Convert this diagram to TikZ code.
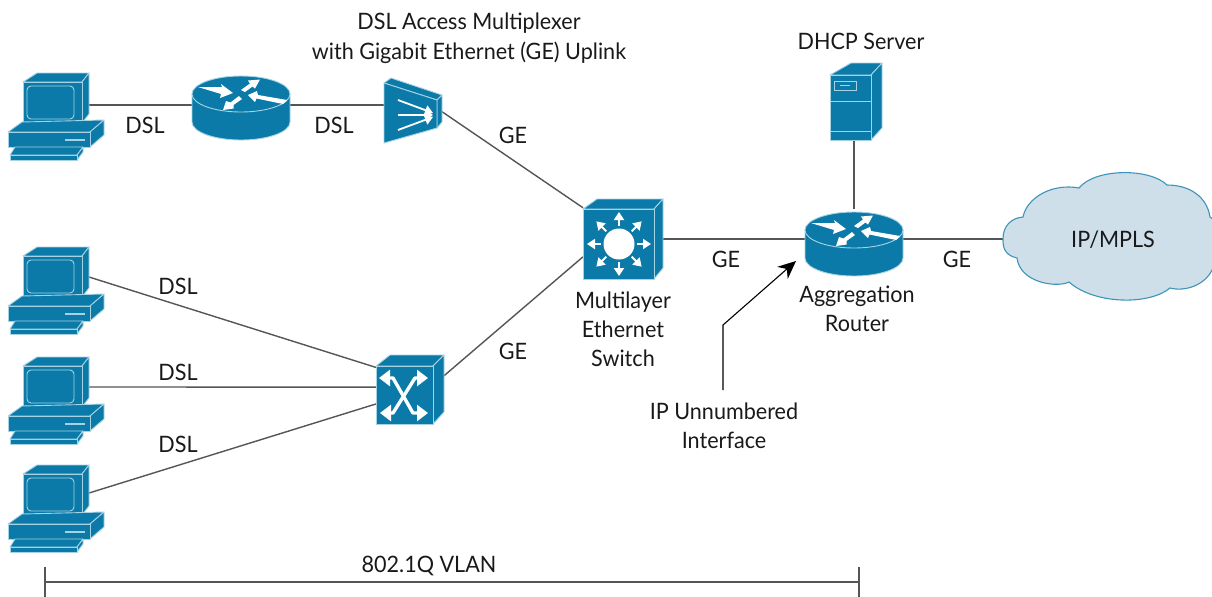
\documentclass[tikz,border=0pt]{standalone}
\usepackage{fontspec}
\setmainfont[FakeStretch=0.955]{Lato}
\usetikzlibrary{positioning, arrows.meta}
\definecolor{azul}{HTML}{0B7AA8}
\definecolor{borde}{HTML}{A5D3E3}
\definecolor{nube}{HTML}{CFDFEA}
\definecolor{linea}{HTML}{555555}
\tikzset{
	% caras de los iconos
	cara/.style={fill=azul, draw=borde, line width=0.45pt, line join=round},
	flechafina/.style={draw=white, line width=0.9pt, -{Triangle[length=4pt, width=5pt]}},
	% ordenador
	pc/.pic={
		\path[cara] (-33,-23) -- (-19,-32) -- (33,-32) -- (26,-23) -- cycle;
		\path[cara] (26,-23) -- (33,-32) -- (33,9) -- (26,18) -- cycle;
		\path[cara] (-33,-23) rectangle (26,18);
		\draw[borde, line width=0.45pt, rounded corners=2pt] (-29,-19) rectangle (18,14);
		\path[cara] (-48,27) -- (-34,17) -- (48,15) -- (34,27) -- cycle;
		\path[cara] (34,27) -- (48,15) -- (48,30) -- (34,42) -- cycle;
		\path[cara] (-48,27) rectangle (34,42);
		\draw[borde, line width=0.8pt] (9,35) -- (29,35);
		\path[cara] (-41,42) -- (27,42) -- (21,50) -- (-46,50) -- cycle;
		\path[cara] (27,42) -- (27,47) -- (21,55) -- (21,50) -- cycle;
		\path[cara] (-46,50) rectangle (21,55);
	},
	% router
	router/.pic={
		\path[cara] (-49,-11) -- (-49,17) arc[start angle=180, end angle=360, x radius=49, y radius=-18] -- (49,-11) -- cycle;
		\path[cara] (0,-11) ellipse[x radius=49, y radius=18];
		\fill[white] (-43,-18) -- (-19,-18) -- (-20,-21) -- (-8,-12) -- (-21,-7) -- (-20,-11) -- cycle;
		\fill[white] (0,-15) -- (9,-21.5) -- (7,-24.5) -- (19,-25.5) -- (14,-16.5) -- (11.5,-18.5) -- (4,-13) -- cycle;
		\fill[white] (7,-10) -- (16,-14) -- (17,-10) -- (46,-5) -- (42,-1) -- (15.5,-6.5) -- (14,-3) -- cycle;
		\fill[white] (-18,5) -- (-15,-4) -- (-10.5,-2.5) -- (-2,-9) -- (1,-6) -- (-7.5,0) -- (-7.5,3.5) -- cycle;
	},
	% multiplexor
	dslampic/.pic={
		\path[cara] (-29,-22) -- (-22,-27) -- (29,-10) -- (24,-5) -- cycle;
		\path[cara] (24,-5) -- (29,-10) -- (29,17) -- (24,23) -- cycle;
		\path[cara] (-29,-22) -- (24,-5) -- (24,23) -- (-29,38) -- cycle;
		\draw[flechafina] (-15,-5) -- (20,8);
		\draw[flechafina] (-15,10) -- (20,10);
		\draw[flechafina] (-15,25) -- (20,12);
	},
	% conmutador multicapa
	capatres/.pic={
		\path[cara] (-40,-30) -- (-26,-40) -- (40,-40) -- (31,-30) -- cycle;
		\path[cara] (31,-30) -- (40,-40) -- (40,29) -- (31,40) -- cycle;
		\path[cara] (-40,-30) rectangle (31,40);
		\fill[white] (-4,5) circle[radius=15.5];
		\foreach \ang in {0,45,...,315}
			\draw[flechafina] ([shift={(\ang:18)}]-4,5) -- ([shift={(\ang:32)}]-4,5);
	},
	% conmutador
	cruce/.pic={
		\path[cara] (-34,-23.5) -- (-20,-34.5) -- (34,-34.5) -- (23,-23.5) -- cycle;
		\path[cara] (23,-23.5) -- (34,-34.5) -- (34,22.5) -- (23,34.5) -- cycle;
		\path[cara] (-34,-23.5) rectangle (23,34.5);
		\draw[white, line width=1.7pt, line join=round, {Triangle[length=5.5pt, width=8pt]}-{Triangle[length=5.5pt, width=8pt]}]
			(-31,-11.5) -- (-17,-11.5) -- (3,23.5) -- (18,23.5);
		\draw[white, line width=1.7pt, line join=round, {Triangle[length=5.5pt, width=8pt]}-{Triangle[length=5.5pt, width=8pt]}]
			(18,-11.5) -- (5,-11.5) -- (-17,23.5) -- (-30,23.5);
	},
	% servidor
	servidor/.pic={
		\path[cara] (-24,-26) -- (-3,-38) -- (28,-38) -- (17,-26) -- cycle;
		\path[cara] (17,-26) -- (28,-38) -- (28,27) -- (17,39) -- cycle;
		\path[cara] (-24,-26) rectangle (17,39);
		\draw[borde, line width=0.45pt] (-24,0) -- (17,0) (-24,30) -- (17,30);
		\draw[borde, line width=0.45pt] (-20,-20) rectangle (2,-11);
		\draw[borde, line width=0.7pt] (-14,-15.5) -- (-4,-15.5);
	}
}
\begin{document}
\begin{tikzpicture}[x=0.5pt, y=-0.5pt,
		every node/.style={text=black!90},
		equipo/.style={rectangle, inner sep=0pt, outer sep=0pt},
		etiqueta/.style={font=\fontsize{11.3}{14.5}\selectfont, align=center, inner sep=0pt},
		enlace/.style={draw=linea, line width=0.7pt}
		]
		\useasboundingbox (0,0) rectangle (1212,596);
		
		% Equipos
		\node[equipo, minimum width=33pt, minimum height=15pt] (pc1) at (56,105) {};
		\node[equipo, minimum width=33pt, minimum height=15pt] (pc2) at (56,277) {};
		\node[equipo, minimum width=33pt, minimum height=15pt, below of=pc2, node distance=55pt] (pc3) {};
		\node[equipo, minimum width=33pt, minimum height=15pt, below of=pc3, node distance=53pt] (pc4) {};
		\node[equipo, minimum width=49pt, minimum height=30pt] (r1) at (241,105) {};
		\node[equipo, minimum width=29pt, minimum height=30pt] (dslam) at (413,105) {};
		\node[equipo, minimum width=40pt, minimum height=40pt] (sw3) at (623,239) {};
		\node[equipo, minimum width=34pt, minimum height=34.5pt] (sw2) at (410,389.5) {};
		\node[equipo, minimum width=49pt, minimum height=30pt] (r2) at (854,239) {};
		\node[equipo, minimum width=26pt, minimum height=39pt] (dhcp) at (854,101) {};
		\coordinate (orilla) at (1003,239);
		\coordinate (salida) at (723,390);
		\coordinate (codo) at (723,325);
		\coordinate (punta) at (796,261);
		\coordinate (vlanizq) at (45,582);
		\coordinate (vlander) at (859,582);
		
		% Textos
		\node[etiqueta] (txtdslam) at (469,38) {DSL Access Multiplexer\\[0.5pt]with Gigabit Ethernet (GE) Uplink};
		\node[etiqueta] (txtdhcp) at (861,41) {DHCP Server};
		\node[etiqueta] (txtsw3) at (623,329) {Multilayer\\Ethernet\\Switch};
		\node[etiqueta] (txtr2) at (857,308.5) {Aggregation\\Router};
		\node[etiqueta] (txtip) at (724,425.5) {IP Unnumbered\\Interface};
		\node[etiqueta] (txtvlan) at (429,566) {802.1Q VLAN};
		\node[etiqueta] (dsl1) at (145,125) {DSL};
		\node[etiqueta] (dsl2) at (334,125) {DSL};
		\node[etiqueta] (dsl3) at (178,286) {DSL};
		\node[etiqueta] (dsl4) at (178,372) {DSL};
		\node[etiqueta] (dsl5) at (178,444) {DSL};
		\node[etiqueta] (ge1) at (513,135) {GE};
		\node[etiqueta] (ge2) at (513,351) {GE};
		\node[etiqueta] (ge3) at (726,259) {GE};
		\node[etiqueta] (ge4) at (957,259) {GE};
		
		% Enlaces
		\draw[enlace] (pc1.east) -- (r1.west);
		\draw[enlace] (r1.east) -- (dslam.west);
		\draw[enlace] (dslam.-13) -- (sw3.142);
		\draw[enlace] (pc2.east) -- (sw2.147);
		\draw[enlace] (pc3.east) -- (sw2.176);
		\draw[enlace] (pc4.east) -- (sw2.203);
		\draw[enlace] (sw2.22) -- (sw3.204);
		\draw[enlace] (sw3.east) -- (r2.west);
		\draw[enlace] (dhcp.south) -- (r2.north);
		\draw[enlace] (r2.east) -- (orilla);
		
		% Flecha de la interfaz
		\draw[black, line width=0.55pt, -{Stealth[length=9pt, width=8pt]}] (salida) -- (codo) -- (punta);
		
		% Tramo VLAN
		\draw[enlace] (vlanizq) -- (vlander);
		\draw[enlace] ([yshift=-7.5pt]vlanizq) -- ([yshift=7.5pt]vlanizq);
		\draw[enlace] ([yshift=-7.5pt]vlander) -- ([yshift=7.5pt]vlander);
		
		% Iconos
		\pic at (pc1) {pc};
		\pic[yshift=-1pt] at (pc2) {pc};
		\pic[yshift=-1pt] at (pc3) {pc};
		\pic[yshift=-2pt] at (pc4) {pc};
		\pic at (r1) {router};
		\pic[yshift=-1pt] at (r2) {router};
		\pic at (dslam) {dslampic};
		\pic at (sw3) {capatres};
		\pic at (sw2) {cruce};
		\pic at (dhcp) {servidor};
		
		% Nube
		\path[fill=nube, draw=azul!80, line width=0.55pt] (orilla)
			.. controls (1003,225) and (1012,218) .. (1023,217)
			.. controls (1027,197) and (1053,183) .. (1079,188)
			.. controls (1095,168) and (1150,168) .. (1167,185)
			.. controls (1190,185) and (1207,197) .. (1210,217)
			.. controls (1225,225) and (1225,260) .. (1212,270)
			.. controls (1205,285) and (1185,292) .. (1170,288)
			.. controls (1150,305) and (1095,305) .. (1069,282)
			.. controls (1057,288) and (1020,283) .. (1017,258)
			.. controls (1003,255) and (1003,245) .. (orilla);
		\node[etiqueta] (mpls) at (1113,240) {IP/MPLS};
	\end{tikzpicture}
\end{document}
